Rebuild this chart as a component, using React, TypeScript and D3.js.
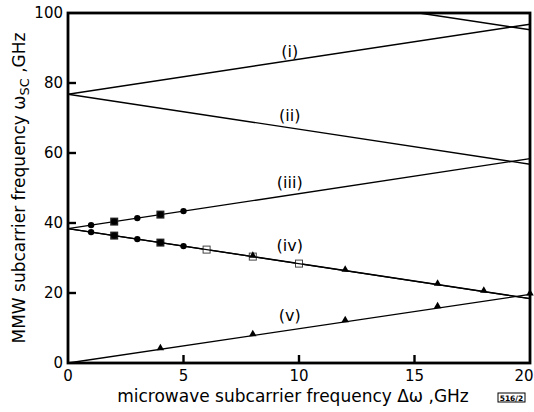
import React from "react";
import * as d3 from "d3";

const width = 534;
const height = 412;
const margin = { top: 13, right: 4, bottom: 49, left: 68 };
const font = "'DejaVu Sans', Verdana, sans-serif";

// line end points, [Δω, ωSC]
const lineTop = [[15.2, 100], [20, 95.2]];
const lineI = [[0, 76.8], [20, 96.8]];
const lineII = [[0, 76.8], [20, 56.8]];
const lineIII = [[0, 38.4], [20, 58.4]];
const lineIV = [[0, 38.4], [20, 18.4]];
const lineV = [[0, 0], [20, 19.6]];

// measured points
const circles = [
  [1, 39.4], [2, 40.4], [3, 41.4], [4, 42.4], [5, 43.4],
  [1, 37.4], [2, 36.4], [3, 35.4], [4, 34.4], [5, 33.4],
];
const filledSquares = [[2, 40.4], [4, 42.4], [2, 36.4], [4, 34.4]];
const openSquares = [[6, 32.4], [8, 30.4], [10, 28.4]];
const triangles = [
  [8, 30.4], [12, 26.4], [16, 22.4], [18, 20.4],
  [4, 4], [8, 8], [12, 12], [16, 16], [20, 19.6],
];

const curveLabels = ["(i)", "(ii)", "(iii)", "(iv)", "(v)"];
const labelPos = [[9.6, 89.2], [9.6, 70.7], [9.6, 51.6], [9.6, 33.6], [9.6, 13.7]];

const xTicks = [0, 5, 10, 15, 20];
const yTicks = [0, 20, 40, 60, 80, 100];

const App = () => {
  const x = d3.scaleLinear().domain([0, 20]).range([margin.left, width - margin.right]);
  const y = d3.scaleLinear().domain([0, 100]).range([height - margin.bottom, margin.top]);
  const line = d3.line<number[]>().x((d) => x(d[0])).y((d) => y(d[1]));
  const tri = d3.symbol().type(d3.symbolTriangle).size(24)();

  const lines = [lineTop, lineI, lineII, lineIII, lineIV, lineV];

  return (
    <svg width={width} height={height} style={{ position: "absolute", left: 0, top: 0, background: "#fff" }}>
      {lines.map((l, i) => (
        <path key={i} d={line(l) || ""} fill="none" stroke="#000" strokeWidth={1.4} />
      ))}

      {filledSquares.map((d, i) => (
        <rect key={i} x={x(d[0]) - 4} y={y(d[1]) - 4} width={8} height={8} fill="#222" />
      ))}
      {circles.map((d, i) => (
        <circle key={i} cx={x(d[0])} cy={y(d[1])} r={3.2} fill="#000" />
      ))}
      {openSquares.map((d, i) => (
        <rect key={i} x={x(d[0]) - 3.5} y={y(d[1]) - 3.5} width={7} height={7} fill="#fff" stroke="#444" strokeWidth={1} />
      ))}
      {triangles.map((d, i) => (
        <path key={i} d={tri || ""} transform={`translate(${x(d[0])},${y(d[1]) - 1})`} fill="#000" />
      ))}
      <path d={line(lineIV) || ""} fill="none" stroke="#000" strokeWidth={1.2} />

      {/* frame */}
      <rect x={margin.left} y={margin.top} width={x(20) - x(0)} height={y(0) - y(100)} fill="none" stroke="#000" strokeWidth={2.8} />

      {yTicks.map((t) => (
        <g key={t}>
          {t > 0 && t < 100 && <line x1={x(0)} x2={x(0) + 8} y1={y(t)} y2={y(t)} stroke="#000" strokeWidth={2.4} />}
          <text x={63} y={y(t)} dy="0.36em" textAnchor="end" fontFamily={font} fontSize={15}>
            {t}
          </text>
        </g>
      ))}
      {xTicks.map((t) => (
        <g key={t}>
          {t > 0 && t < 20 && <line x1={x(t)} x2={x(t)} y1={y(0)} y2={y(0) - 8} stroke="#000" strokeWidth={2.4} />}
          <text x={t === 20 ? x(t) - 6 : x(t)} y={381} textAnchor="middle" fontFamily={font} fontSize={15}>
            {t}
          </text>
        </g>
      ))}

      {curveLabels.map((lab, i) => (
        <text key={lab} x={x(labelPos[i][0])} y={y(labelPos[i][1])} dy="0.36em" textAnchor="middle" fontFamily={font} fontSize={16}>
          {lab}
        </text>
      ))}

      <text x={293} y={402} textAnchor="middle" fontFamily={font} fontSize={17}>
        microwave  subcarrier frequency Δω ,GHz
      </text>
      <g transform="translate(498,393)">
        <rect width={27} height={9} fill="#fff" stroke="#000" strokeWidth={1} />
        <text x={13.5} y={7.5} textAnchor="middle" fontFamily={font} fontSize={7.5} fontWeight="bold">516/2</text>
      </g>

      <text transform={`translate(25,${(y(0) + y(100)) / 2}) rotate(-90)`} textAnchor="middle" fontFamily={font} fontSize={17}>
        MMW subcarrier frequency ω
        <tspan fontSize={13} dy={4}>SC</tspan>
        <tspan dy={-4}> ,GHz</tspan>
      </text>
    </svg>
  );
};

export default App;
